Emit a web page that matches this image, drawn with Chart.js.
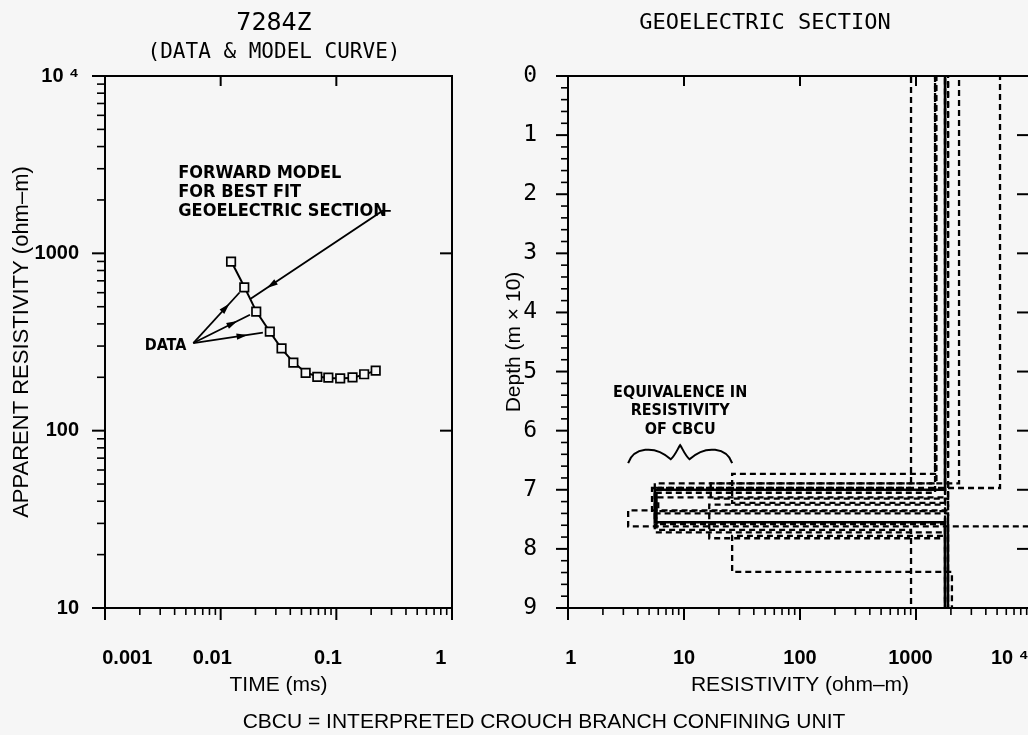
<!DOCTYPE html>
<html lang="en">
<head>
<meta charset="utf-8">
<title>7284Z – sounding data and geoelectric section</title>
<script src="https://cdn.jsdelivr.net/npm/chart.js@4.4.1/dist/chart.umd.min.js"></script>
<style>
  html, body { margin: 0; padding: 0; width: 1028px; height: 735px; overflow: hidden; background: #f6f6f6; }
  canvas { position: absolute; top: 0; }
  #sounding { left: 0; }
  #section { left: 490px; }
  #note { position: absolute; left: 0; width: 1088px; top: 709px; line-height: 28px; text-align: center;
          font: 21px "Liberation Sans", Arial, sans-serif; color: #000; white-space: nowrap; }
</style>
</head>
<body>
<canvas id="sounding" width="548" height="735"></canvas>
<canvas id="section" width="550" height="735"></canvas>
<div id="note">CBCU = INTERPRETED CROUCH BRANCH CONFINING UNIT</div>
<script>
// ---------- sounding 7284Z: measured apparent resistivity and forward model ----------
const timeMs      = [0.0123, 0.0160, 0.0203, 0.0266, 0.0336, 0.0425, 0.0543, 0.0685, 0.0853, 0.108, 0.138, 0.174, 0.219];
const apparentRho = [897, 643, 469, 362, 291, 242, 212, 201, 199, 197, 200, 208, 218];
const modelRho    = [905, 648, 471, 361, 290, 243, 213, 202, 198, 197, 199, 207, 218];

// tick labels; surrounding spaces nudge the plotter-style label placement
const timeTicks      = [0.001, 0.01, 0.1, 1];
const timeTickLabels = ['        0.001', '0.01   ', '0.1   ', '1    '];
const rhoTicks       = [10, 100, 1000, 10000];
const rhoTickLabels  = ['10', '100', '1000', '10 \u2074'];

// annotation anchors (time in ms, resistivity in ohm-m)
const forwardNote    = ['FORWARD MODEL', 'FOR BEST FIT', 'GEOELECTRIC SECTION'];
const forwardNoteAt  = { t: 0.0043, rho: 2840 };
const forwardElbowT  = 0.25;
const dataNoteAt     = { t: 0.0058, rho: 312 };
const dataArrowIndex = [1, 2, 3];

// ---------- geoelectric section: best fit (first) and equivalent models ----------
const layer1Rho  = [1780, 1460, 2350, 906,  5300, 1890, 1780, 1500, 1890, 1780, 1460];
const layer1Base = [7.00, 6.73, 6.89, 6.97, 6.97, 7.35, 7.78, 6.89, 7.13, 7.25, 7.05];
const cbcuRho    = [5.6,  26,   17,   5.8,  5.3,  3.3,  26,   5.6,  6.0,  16.5, 5.8];
const cbcuBase   = [7.55, 7.22, 7.15, 7.68, 7.40, 7.62, 8.39, 7.72, 7.36, 7.82, 7.58];
const layer3Rho  = [1780, 1780, 1890, 906,  1890, 25000, 2040, 1780, 1780, 1780, 1890];

const depthTicks     = [0, 1, 2, 3, 4, 5, 6, 7, 8, 9];
const resTicks       = [1, 10, 100, 1000, 10000];
const resTickLabels  = [' 1', '10', '100', '1000  ', '10 \u2074' + ' '.repeat(8)];

const equivNote  = ['EQUIVALENCE IN', 'RESISTIVITY', 'OF CBCU'];
const braceDepth = 6.55;

// ---------- shared styling ----------
const INK    = '#000';
const PAPER  = '#f6f6f6';
const SANS   = '"Liberation Sans", Arial, sans-serif';
const NARROW = '"Liberation Sans Narrow", "DejaVu Sans Condensed", Arial, sans-serif';
const MONO   = '"DejaVu Sans Mono", "Liberation Mono", monospace';
const TICK_FONT  = { family: SANS, size: 20, weight: 'bold' };
const TITLE_FONT = { family: SANS, size: 21, weight: 'normal' };

Chart.defaults.color = INK;

function isDecade(v) { const l = Math.log10(v); return Math.abs(l - Math.round(l)) < 1e-6; }
function isWhole(v) { return Math.abs(v - Math.round(v)) < 1e-6; }
function labelFor(v, values, labels) {
  const i = values.findIndex(u => Math.abs(u - v) <= Math.abs(u) * 1e-6 + 1e-9);
  return i >= 0 ? labels[i] : '';
}
function logTicks(min, max) {
  const out = [];
  for (let e = Math.floor(Math.log10(min)); e <= Math.ceil(Math.log10(max)); e++) {
    for (let m = 1; m <= 9; m++) {
      const v = +(m * Math.pow(10, e)).toPrecision(6);
      if (v >= min * 0.9999 && v <= max * 1.0001) out.push({ value: v });
    }
  }
  return out;
}
// fixed-height bottom axis; labels may overhang the plot edges
function bottomAxisFit(s) { s.height = 127; s.paddingLeft = 0; s.paddingRight = 0; }

// plot frame plus major/minor tick marks on each side
function frameAndTicks(marks) {
  return {
    id: 'frameAndTicks',
    afterDatasetsDraw(chart) {
      const { ctx, chartArea: a } = chart;
      ctx.save();
      ctx.strokeStyle = INK;
      ctx.lineWidth = 2;
      ctx.strokeRect(a.left, a.top, a.right - a.left, a.bottom - a.top);
      for (const m of marks) {
        const s = chart.scales[m.scale];
        for (const t of s.ticks) {
          const major = m.major(t.value);
          const len = major ? m.majorLen : m.minorLen;
          if (!len) continue;
          const p = s.getPixelForValue(t.value);
          ctx.lineWidth = major ? 2 : 1.6;
          ctx.beginPath();
          if (m.side === 'bottom')      { ctx.moveTo(p, a.bottom); ctx.lineTo(p, a.bottom + len); }
          else if (m.side === 'top')    { ctx.moveTo(p, a.top);    ctx.lineTo(p, a.top + len); }
          else if (m.side === 'left')   { ctx.moveTo(a.left, p);   ctx.lineTo(a.left - len, p); }
          else                          { ctx.moveTo(a.right, p);  ctx.lineTo(a.right - len, p); }
          ctx.stroke();
        }
      }
      ctx.restore();
    }
  };
}

function arrowHead(ctx, x0, y0, x1, y1, back) {
  const dx = x1 - x0, dy = y1 - y0, len = Math.hypot(dx, dy);
  const ux = dx / len, uy = dy / len;
  const tx = x1 - ux * back, ty = y1 - uy * back;
  const bx = tx - ux * 11, by = ty - uy * 11;
  ctx.beginPath();
  ctx.moveTo(tx, ty);
  ctx.lineTo(bx - uy * 3.2, by + ux * 3.2);
  ctx.lineTo(bx + uy * 3.2, by - ux * 3.2);
  ctx.closePath();
  ctx.fill();
}

const soundingNotes = {
  id: 'soundingNotes',
  afterDatasetsDraw(chart) {
    const { ctx, scales: { x, y } } = chart;
    const X = v => x.getPixelForValue(v), Y = v => y.getPixelForValue(v);
    ctx.save();
    ctx.fillStyle = INK; ctx.strokeStyle = INK; ctx.lineWidth = 1.8;
    ctx.font = 'bold 18px ' + NARROW;
    ctx.textBaseline = 'middle'; ctx.textAlign = 'left';

    // leader from the note to the model curve
    const nx = X(forwardNoteAt.t), ny = Y(forwardNoteAt.rho);
    forwardNote.forEach((s, i) => ctx.fillText(s, nx, ny + i * 19));
    const ly = ny + 2 * 19;
    const lx = nx + ctx.measureText(forwardNote[2]).width + 4;
    const ex = X(forwardElbowT);
    const tipX = (X(timeMs[1]) + X(timeMs[2])) / 2;
    const tipY = (Y(modelRho[1]) + Y(modelRho[2])) / 2;
    ctx.beginPath(); ctx.moveTo(lx, ly); ctx.lineTo(ex, ly); ctx.lineTo(tipX, tipY); ctx.stroke();
    arrowHead(ctx, ex, ly, tipX, tipY, 20);

    // arrows from the DATA label to measured points
    ctx.font = 'bold 16px ' + NARROW;
    const ox = X(dataNoteAt.t), oy = Y(dataNoteAt.rho);
    ctx.textAlign = 'right';
    ctx.fillText('DATA', ox - 7, oy + 3);
    for (const i of dataArrowIndex) {
      const px = X(timeMs[i]), py = Y(apparentRho[i]);
      const d = Math.hypot(px - ox, py - oy);
      const endX = px - (px - ox) / d * 7, endY = py - (py - oy) / d * 7;
      ctx.beginPath(); ctx.moveTo(ox, oy); ctx.lineTo(endX, endY); ctx.stroke();
      arrowHead(ctx, ox, oy, endX, endY, d * 0.2);
    }
    ctx.restore();
  }
};

const sectionNotes = {
  id: 'sectionNotes',
  afterDatasetsDraw(chart) {
    const { ctx, scales: { x, y } } = chart;
    const xl = x.getPixelForValue(Math.min(...cbcuRho));
    const xr = x.getPixelForValue(Math.max(...cbcuRho));
    const yb = y.getPixelForValue(braceDepth);
    const w = xr - xl, h = 18, mid = (xl + xr) / 2;
    ctx.save();
    ctx.strokeStyle = INK; ctx.fillStyle = INK; ctx.lineWidth = 2;
    ctx.beginPath();
    ctx.moveTo(xl, yb);
    ctx.bezierCurveTo(xl + 0.05 * w, yb - 0.85 * h, xl + 0.25 * w, yb - 1.05 * h, xl + 0.41 * w, yb - 0.22 * h);
    ctx.bezierCurveTo(xl + 0.45 * w, yb - 0.4 * h, mid - 0.02 * w, yb - 0.85 * h, mid, yb - h);
    ctx.bezierCurveTo(mid + 0.02 * w, yb - 0.85 * h, xr - 0.45 * w, yb - 0.4 * h, xr - 0.41 * w, yb - 0.22 * h);
    ctx.bezierCurveTo(xr - 0.25 * w, yb - 1.05 * h, xr - 0.05 * w, yb - 0.85 * h, xr, yb);
    ctx.stroke();
    ctx.font = 'bold 16px ' + NARROW;
    ctx.textAlign = 'center'; ctx.textBaseline = 'middle';
    const top = yb - h;
    [-52, -34, -15].forEach((off, i) => ctx.fillText(equivNote[i], mid, top + off));
    ctx.restore();
  }
};

// ---------- left panel ----------
new Chart(document.getElementById('sounding'), {
  type: 'scatter',
  data: {
    datasets: [
      { label: 'Forward model', data: timeMs.map((t, i) => ({ x: t, y: modelRho[i] })),
        showLine: true, borderColor: INK, borderWidth: 2, pointRadius: 0, order: 2 },
      { label: 'Data', data: timeMs.map((t, i) => ({ x: t, y: apparentRho[i] })),
        pointStyle: 'rect', pointRadius: 6, pointBorderWidth: 1.7,
        borderColor: INK, backgroundColor: PAPER, order: 1 }
    ]
  },
  options: {
    responsive: false, animation: false, events: [],
    layout: { padding: 0, autoPadding: false },
    plugins: {
      legend: { display: false }, tooltip: { enabled: false },
      title: { display: true, text: '7284Z', color: INK,
               font: { family: MONO, size: 25, weight: 'normal' }, padding: { top: 8, bottom: 0 } },
      subtitle: { display: true, text: '(DATA & MODEL CURVE)', color: INK,
                  font: { family: MONO, size: 21, weight: 'normal' }, padding: { top: 2.4, bottom: 10.4 } }
    },
    scales: {
      x: {
        type: 'logarithmic', position: 'bottom', min: 0.001, max: 1,
        afterBuildTicks: s => { s.ticks = logTicks(s.min, s.max); },
        afterFit: bottomAxisFit,
        grid: { display: false }, border: { display: false },
        ticks: { autoSkip: false, maxRotation: 0, minRotation: 0, padding: 30, color: INK, font: TICK_FONT,
                 callback: v => labelFor(v, timeTicks, timeTickLabels) },
        title: { display: true, text: 'TIME (ms)', color: INK, font: TITLE_FONT, padding: { top: 0, bottom: 37 } }
      },
      y: {
        type: 'logarithmic', position: 'left', min: 10, max: 10000,
        afterBuildTicks: s => { s.ticks = logTicks(s.min, s.max); },
        afterFit: s => { s.width = 105; },
        grid: { display: false }, border: { display: false },
        ticks: { autoSkip: false, padding: 18, color: INK, font: TICK_FONT,
                 callback: v => labelFor(v, rhoTicks, rhoTickLabels) },
        title: { display: true, text: 'APPARENT RESISTIVITY (ohm\u2013m)', color: INK,
                 font: { family: SANS, size: 22, weight: 'normal' }, padding: { top: 9, bottom: 0 } }
      },
      y2: {
        type: 'linear', position: 'right', min: 0, max: 1,
        afterFit: s => { s.width = 96; },
        grid: { display: false }, border: { display: false }, ticks: { display: false }
      }
    }
  },
  plugins: [
    frameAndTicks([
      { scale: 'x', side: 'bottom', major: isDecade, majorLen: 12, minorLen: 7 },
      { scale: 'x', side: 'top',    major: isDecade, majorLen: 10, minorLen: 0 },
      { scale: 'y', side: 'left',   major: isDecade, majorLen: 13, minorLen: 8 },
      { scale: 'y', side: 'right',  major: isDecade, majorLen: 12, minorLen: 0 }
    ]),
    soundingNotes
  ]
});

// ---------- right panel ----------
const DEPTH_MAX = depthTicks[depthTicks.length - 1];
const sectionSets = layer1Rho.map((r1, i) => ({
  label: i === 0 ? 'Best fit' : 'Equivalent ' + i,
  data: [
    { x: r1,           y: 0 },
    { x: r1,           y: layer1Base[i] },
    { x: cbcuRho[i],   y: layer1Base[i] },
    { x: cbcuRho[i],   y: cbcuBase[i] },
    { x: layer3Rho[i], y: cbcuBase[i] },
    { x: layer3Rho[i], y: DEPTH_MAX }
  ],
  showLine: true, pointRadius: 0, borderColor: INK,
  borderWidth: i === 0 ? 2.6 : 2.3,
  borderDash: i === 0 ? [] : [6, 4],
  borderDashOffset: i * 3,
  order: i === 0 ? 0 : 1
}));

new Chart(document.getElementById('section'), {
  type: 'scatter',
  data: { datasets: sectionSets },
  options: {
    responsive: false, animation: false, events: [],
    layout: { padding: 0, autoPadding: false },
    plugins: {
      legend: { display: false }, tooltip: { enabled: false },
      title: { display: true, text: 'GEOELECTRIC SECTION', color: INK,
               font: { family: MONO, size: 22, weight: 'normal' }, padding: { top: 9.8, bottom: 39.8 } }
    },
    scales: {
      x: {
        type: 'logarithmic', position: 'bottom', min: resTicks[0], max: resTicks[resTicks.length - 1],
        afterBuildTicks: s => { s.ticks = logTicks(s.min, s.max); },
        afterFit: bottomAxisFit,
        grid: { display: false }, border: { display: false },
        ticks: { autoSkip: false, maxRotation: 0, minRotation: 0, padding: 30, color: INK, font: TICK_FONT,
                 callback: v => labelFor(v, resTicks, resTickLabels) },
        title: { display: true, text: 'RESISTIVITY (ohm\u2013m)', color: INK, font: TITLE_FONT,
                 padding: { top: 0, bottom: 37 } }
      },
      y: {
        type: 'linear', position: 'left', reverse: true, min: 0, max: DEPTH_MAX,
        afterBuildTicks: s => { s.ticks = Array.from({ length: DEPTH_MAX * 5 + 1 }, (_, i) => ({ value: i / 5 })); },
        afterFit: s => { s.width = 78; },
        grid: { display: false }, border: { display: false },
        ticks: { autoSkip: false, padding: 23, color: INK, font: { family: MONO, size: 23, weight: 'normal' },
                 callback: v => labelFor(v, depthTicks, depthTicks.map(String)) },
        title: { display: true, text: 'Depth (m \u00d7 10)', color: INK, font: { family: SANS, size: 21 },
                 padding: { top: 12, bottom: 0 } }
      },
      y2: {
        type: 'linear', position: 'right', min: 0, max: 1,
        afterFit: s => { s.width = 8; },
        grid: { display: false }, border: { display: false }, ticks: { display: false }
      }
    }
  },
  plugins: [
    frameAndTicks([
      { scale: 'x', side: 'bottom', major: isDecade, majorLen: 12, minorLen: 7 },
      { scale: 'x', side: 'top',    major: isDecade, majorLen: 10, minorLen: 0 },
      { scale: 'y', side: 'left',   major: isWhole,  majorLen: 12, minorLen: 7 },
      { scale: 'y', side: 'right',  major: isWhole,  majorLen: 15, minorLen: 0 }
    ]),
    sectionNotes
  ]
});
</script>
</body>
</html>
